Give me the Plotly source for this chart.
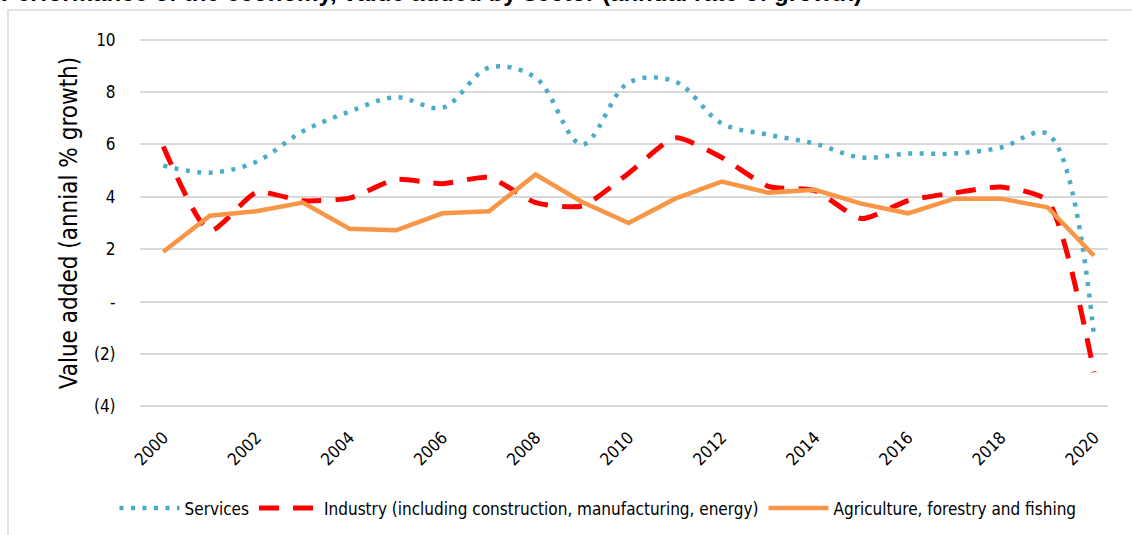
import plotly.graph_objects as go

years = list(range(2000, 2021))
services = [5.19, 4.92, 5.34, 6.5, 7.25, 7.8, 7.4, 8.93, 8.55, 6.0, 8.36, 8.4,
            6.8, 6.37, 6.03, 5.5, 5.65, 5.65, 5.88, 6.4, -1.34]
industry = [5.92, 2.7, 4.16, 3.85, 3.95, 4.66, 4.5, 4.74, 3.78, 3.65, 4.9, 6.25,
            5.5, 4.4, 4.24, 3.17, 3.85, 4.15, 4.37, 3.85, -2.7]
agriculture = [1.9, 3.28, 3.45, 3.78, 2.78, 2.72, 3.37, 3.45, 4.85, 3.8, 3.0, 3.93,
               4.58, 4.16, 4.27, 3.74, 3.37, 3.93, 3.93, 3.6, 1.75]

y_tickvals = [10, 8, 6, 4, 2, 0, -2, -4]
y_ticktext = ["10", "8", "6", "4", "2", "-", "(2)", "(4)"]
x_tickvals = list(range(2000, 2021, 2))

FONT = "DejaVu Sans Condensed, Liberation Sans Narrow, Arial Narrow, DejaVu Sans, sans-serif"

fig = go.Figure()
fig.add_trace(go.Scatter(
    x=years, y=services, name="Services", mode="lines",
    line=dict(color="#4BACC6", width=4.5, dash="4px,7.5px", shape="spline", smoothing=1.0),
))
fig.add_trace(go.Scatter(
    x=years, y=industry, name="Industry (including construction, manufacturing, energy)", mode="lines",
    line=dict(color="#FF0000", width=5, dash="20px,14px", shape="spline", smoothing=0.6),
))
fig.add_trace(go.Scatter(
    x=years, y=agriculture, name="Agriculture, forestry and fishing", mode="lines",
    line=dict(color="#F79646", width=4.5),
))

L, R, T, B = 140, 24, 36.9, 126.4
W, H = 1132, 535
pw, ph = W - L - R, H - T - B

def px(x):
    return (x - L) / pw

def py(y):
    return (H - B - y) / ph

fig.update_layout(
    width=W, height=H,
    margin=dict(l=L, r=R, t=T, b=B, autoexpand=False),
    paper_bgcolor="white", plot_bgcolor="white",
    font=dict(family=FONT, color="#000000"),
    showlegend=True,
    legend=dict(orientation="h", x=px(598), xanchor="center", y=py(508), yanchor="middle",
                font=dict(size=17, family=FONT), itemwidth=60, tracegroupgap=0),
    xaxis=dict(range=[1999.5, 2020.3], tickvals=x_tickvals, tickangle=-45,
               tickfont=dict(size=17, family=FONT), showgrid=False, zeroline=False,
               showline=False, ticks="outside", ticklen=11, tickcolor="rgba(0,0,0,0)",
               automargin=False),
    yaxis=dict(range=[-4.1, 10.1], tickvals=y_tickvals, ticktext=y_ticktext,
               tickfont=dict(size=17, family=FONT), showgrid=True, gridcolor="#D9D9D9",
               gridwidth=1.5, zeroline=False, showline=False, ticks="outside", ticklen=20,
               tickcolor="rgba(0,0,0,0)", automargin=False,
               title=dict(text="Value added (annial % growth)", font=dict(size=24, family=FONT),
                          standoff=9)),
    shapes=[dict(type="rect", xref="paper", yref="paper", x0=px(8), x1=px(1140), y0=py(545), y1=py(10),
                 line=dict(color="#D9D9D9", width=1.5), fillcolor="rgba(0,0,0,0)", layer="below")],
    annotations=[dict(text="<b>Performance of the economy, value added by sector (annual rate of growth)</b>",
                      xref="paper", yref="paper", x=px(-1), y=py(8), xanchor="left", yanchor="bottom",
                      showarrow=False, font=dict(size=24, family="Liberation Sans, Arial, sans-serif", color="#000"))],
)

fig.write_html("out.html", config={"displayModeBar": False},
               post_script="document.body.style.margin='0';document.body.style.overflow='hidden';")
